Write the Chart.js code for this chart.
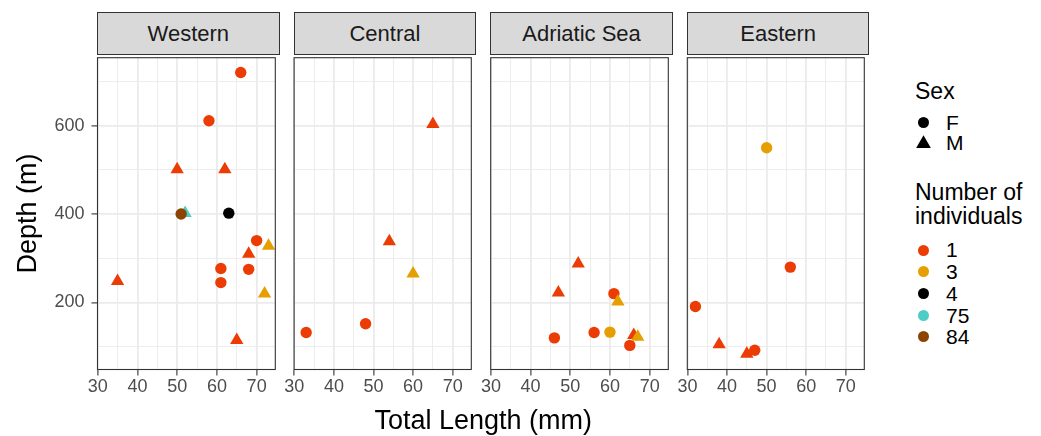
<!DOCTYPE html>
<html>
<head>
<meta charset="utf-8">
<title>Depth vs Total Length by region</title>
<script src="https://cdn.jsdelivr.net/npm/chart.js@4.4.1/dist/chart.umd.min.js"></script>
<style>
  body { margin: 0; background: #fff; font-family: "Liberation Sans", Arial, sans-serif; }
  #wrap { position: relative; width: 1041px; height: 436px; overflow: hidden; background: #fff; }
  #wrap canvas { position: absolute; }
  .strip {
    position: absolute; box-sizing: border-box; background: #d9d9d9;
    border: 1px solid #333333; color: #1a1a1a; font-size: 22px; text-align: center;
  }
  .txt { position: absolute; white-space: nowrap; color: #000; }
  .sym { position: absolute; }
</style>
</head>
<body>
<div id="wrap"></div>
<script>
// ---------- data ----------
const regions = ["Western", "Central", "Adriatic Sea", "Eastern"];

const westernLength = [66, 58, 50, 62, 52, 51, 63, 70, 73, 68, 61, 68, 61, 35, 72, 65];
const westernDepth  = [720, 611, 501, 501, 402, 400, 402, 340, 328, 310, 277, 275, 245, 248, 220, 115];
const westernSex    = ["F", "F", "M", "M", "M", "F", "F", "F", "M", "M", "F", "F", "F", "M", "M", "M"];
const westernCount  = [1, 1, 1, 1, 75, 84, 4, 1, 3, 1, 1, 1, 1, 1, 3, 1];

const centralLength = [65, 54, 60, 48, 33];
const centralDepth  = [603, 338, 265, 152, 132];
const centralSex    = ["M", "M", "M", "F", "F"];
const centralCount  = [1, 1, 3, 1, 1];

const adriaticLength = [52, 47, 61, 62, 56, 60, 46, 65, 66, 67];
const adriaticDepth  = [288, 222, 220, 202, 132, 133, 120, 103, 126, 122];
const adriaticSex    = ["M", "M", "F", "M", "F", "F", "F", "F", "M", "M"];
const adriaticCount  = [1, 1, 1, 3, 1, 3, 1, 1, 1, 3];

const easternLength = [50, 56, 32, 38, 47, 45];
const easternDepth  = [550, 280, 191, 105, 92, 84];
const easternSex    = ["F", "F", "F", "M", "F", "M"];
const easternCount  = [3, 1, 1, 1, 1, 1];

const sexLevels = ["F", "M"];
const countLevels = [1, 3, 4, 75, 84];

const xMajorTicks = [30, 40, 50, 60, 70];
const xMinorTicks = [35, 45, 55, 65];
const yMajorTicks = [200, 400, 600];
const yMinorTicks = [100, 300, 500, 700];

// ---------- styles / layout ----------
const countColours = ["#EC3C06", "#E69F00", "#000000", "#4ECDC4", "#8B4500"];
const FONT = '"Liberation Sans", Arial, sans-serif';
const X_MIN = 29.95, X_MAX = 74.7;
const Y_MIN = 48.5, Y_MAX = 753.5;
const PANEL_LEFT = [97.5, 294.1, 490.7, 687.3];
const PANEL_W = 181.7;
const PANEL_TOP = 54;
const PANEL_BOTTOM = 369.5;
const CANVAS_TOP = 50;
const CANVAS_H = 360;
const CIRCLE_R = 5.7, TRIANGLE_R = 7.7;

Chart.defaults.font.family = FONT;

const panelData = [
  [westernLength, westernDepth, westernSex, westernCount],
  [centralLength, centralDepth, centralSex, centralCount],
  [adriaticLength, adriaticDepth, adriaticSex, adriaticCount],
  [easternLength, easternDepth, easternSex, easternCount]
];

const wrap = document.getElementById("wrap");

function colourFor(count) {
  return countColours[countLevels.indexOf(count)];
}

// ---------- plugin: grey20 box round each panel ----------
const panelBorder = {
  id: "panelBorder",
  afterDatasetsDraw(chart) {
    const a = chart.chartArea;
    const ctx = chart.ctx;
    ctx.save();
    ctx.strokeStyle = "#333333";
    ctx.lineWidth = 1.1;
    ctx.strokeRect(a.left, a.top, a.right - a.left, a.bottom - a.top);
    ctx.restore();
  }
};

function gridOptions(majors, showTicks) {
  return {
    color: "#EBEBEB",
    lineWidth: (c) => (c.tick && majors.includes(c.tick.value) ? 1.8 : 0.9),
    drawTicks: showTicks,
    tickLength: 6,
    tickWidth: 1.1,
    tickColor: (c) => (c.tick && majors.includes(c.tick.value) ? "#333333" : "rgba(0,0,0,0)")
  };
}

// ---------- one facet panel ----------
function makePanel(i) {
  const [lens, depths, sexes, counts] = panelData[i];
  const first = i === 0;
  const left = first ? 0 : Math.floor(PANEL_LEFT[i] - 16);
  const axisW = PANEL_LEFT[i] - left;
  const width = Math.ceil(axisW + PANEL_W + 3);

  const canvas = document.createElement("canvas");
  canvas.width = width;
  canvas.height = CANVAS_H;
  canvas.style.left = left + "px";
  canvas.style.top = CANVAS_TOP + "px";
  wrap.appendChild(canvas);

  // strip label
  const strip = document.createElement("div");
  strip.className = "strip";
  strip.style.left = (PANEL_LEFT[i] - 0.5) + "px";
  strip.style.width = (PANEL_W + 1) + "px";
  strip.style.top = "12px";
  strip.style.height = "43px";
  strip.style.lineHeight = "41px";
  strip.textContent = regions[i];
  wrap.appendChild(strip);

  const xGrid = [...xMajorTicks, ...xMinorTicks].sort((a, b) => a - b);
  const yGrid = [...yMajorTicks, ...yMinorTicks].sort((a, b) => a - b);
  const radii = sexes.map((s) => (s === "M" ? TRIANGLE_R : CIRCLE_R));

  new Chart(canvas.getContext("2d"), {
    type: "scatter",
    data: {
      datasets: [
        {
          data: lens.map((x, k) => ({ x: x, y: depths[k] })),
          pointStyle: sexes.map((s) => (s === "M" ? "triangle" : "circle")),
          pointRadius: radii,
          pointHoverRadius: radii,
          pointBackgroundColor: counts.map(colourFor),
          pointBorderWidth: 0
        }
      ]
    },
    options: {
      responsive: false,
      animation: false,
      devicePixelRatio: 1,
      layout: {
        padding: { left: 0, top: PANEL_TOP - CANVAS_TOP, right: width - axisW - PANEL_W, bottom: 0 }
      },
      plugins: { legend: { display: false }, tooltip: { enabled: false } },
      scales: {
        x: {
          type: "linear",
          min: X_MIN,
          max: X_MAX,
          afterBuildTicks: (s) => { s.ticks = xGrid.map((v) => ({ value: v })); },
          afterFit: (s) => {
            s.height = CANVAS_H - (PANEL_BOTTOM - CANVAS_TOP);
            s.paddingLeft = 0;
            s.paddingRight = 0;
          },
          ticks: {
            autoSkip: false,
            maxRotation: 0,
            padding: 1,
            color: "#4D4D4D",
            font: { size: 18 },
            callback: (v) => (xMajorTicks.includes(v) ? String(v) : "")
          },
          grid: gridOptions(xMajorTicks, true),
          border: { display: false }
        },
        y: {
          type: "linear",
          min: Y_MIN,
          max: Y_MAX,
          afterBuildTicks: (s) => { s.ticks = yGrid.map((v) => ({ value: v })); },
          afterFit: (s) => {
            s.width = axisW;
            s.paddingTop = 0;
            s.paddingBottom = 0;
          },
          ticks: {
            display: first,
            autoSkip: false,
            padding: 7,
            color: "#4D4D4D",
            font: { size: 18 },
            callback: (v) => (yMajorTicks.includes(v) ? String(v) : "")
          },
          title: {
            display: first,
            text: "Depth (m)",
            color: "#000",
            font: { size: 27, lineHeight: 1.2 },
            padding: { top: 12.8, bottom: 0 }
          },
          grid: gridOptions(yMajorTicks, first),
          border: { display: false }
        }
      }
    },
    plugins: [panelBorder]
  });
}

regions.forEach((r, i) => makePanel(i));

// ---------- axis title + legend ----------
function addText(text, x, yMid, size, anchorMiddle) {
  const d = document.createElement("div");
  d.className = "txt";
  d.textContent = text;
  d.style.fontSize = size + "px";
  d.style.lineHeight = size * 1.2 + "px";
  d.style.top = (yMid - size * 0.6) + "px";
  d.style.left = x + "px";
  if (anchorMiddle) d.style.transform = "translateX(-50%)";
  wrap.appendChild(d);
  return d;
}

function addSymbol(shape, colour, cx, cy) {
  const d = document.createElement("div");
  d.className = "sym";
  if (shape === "circle") {
    d.style.width = "11px";
    d.style.height = "11px";
    d.style.borderRadius = "50%";
    d.style.left = (cx - 5.5) + "px";
    d.style.top = (cy - 5.5) + "px";
  } else {
    d.style.width = "15px";
    d.style.height = "13px";
    d.style.clipPath = "polygon(50% 0, 100% 100%, 0 100%)";
    d.style.left = (cx - 7.5) + "px";
    d.style.top = (cy - 7.5) + "px";
  }
  d.style.background = colour;
  wrap.appendChild(d);
}

addText("Total Length (mm)", (PANEL_LEFT[0] + PANEL_LEFT[3] + PANEL_W) / 2, 420, 27, true);

const LEG_X = 915, SYM_X = 923.5, LAB_X = 946;
addText("Sex", LEG_X, 91.7, 23);
sexLevels.forEach((s, k) => {
  const y = 122.3 + k * 20.5;
  addSymbol(s === "M" ? "triangle" : "circle", "#000", SYM_X, y);
  addText(s, LAB_X, y, 21);
});

addText("Number of", LEG_X, 193, 23);
addText("individuals", LEG_X, 217, 23);
countLevels.forEach((c, k) => {
  const y = 250 + k * 21.7;
  addSymbol("circle", countColours[k], SYM_X, y);
  addText(String(c), LAB_X, y, 21);
});
</script>
</body>
</html>
